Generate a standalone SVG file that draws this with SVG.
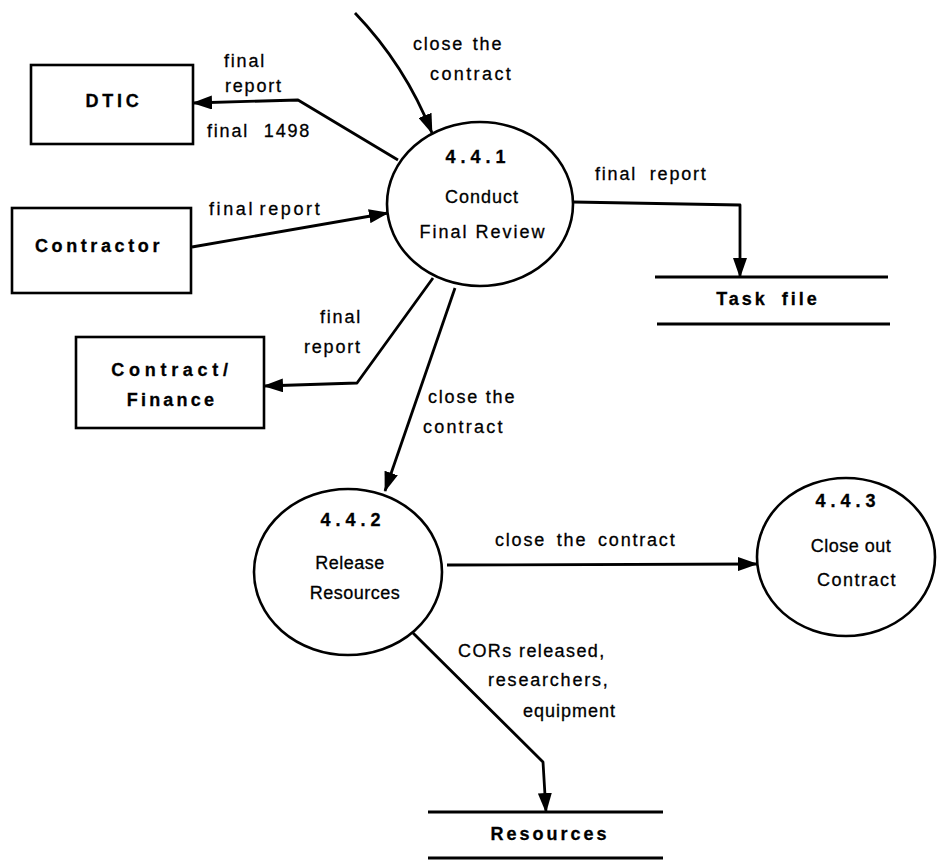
<svg xmlns="http://www.w3.org/2000/svg" width="938" height="860" viewBox="0 0 938 860">
<style>
  .box{fill:#fff;stroke:#000;stroke-width:2.6}
  .proc{fill:#fff;stroke:#000;stroke-width:2.6}
  .store{stroke:#000;stroke-width:2.8}
  .flow{fill:none;stroke:#000;stroke-width:2.8;stroke-linejoin:round}
  .arr{marker-end:url(#ah)}
  text{font-family:"Liberation Sans",Arial,sans-serif;font-size:18px;fill:#000;stroke:#000;stroke-width:0.3}
  .b{font-weight:bold}
  .lbl{letter-spacing:1.8px}
  .m{text-anchor:middle}
</style>
<defs>
  <marker id="ah" markerUnits="userSpaceOnUse" markerWidth="20" markerHeight="14" refX="19" refY="7" orient="auto">
    <path d="M0,0 L20,7 L0,14 z" fill="#000"/>
  </marker>
</defs>
<rect width="938" height="860" fill="#fff"/>

<g id="connectors">
  <path class="flow arr" d="M355,13 Q405,65 432,133"/>
  <path class="flow arr" d="M398,160 L298,100 L193,103"/>
  <path class="flow arr" d="M192,247 L388,213"/>
  <path class="flow arr" d="M573,202 L740,205 L740,277"/>
  <path class="flow arr" d="M433,278 L357,383 L264,386"/>
  <path class="flow arr" d="M455,288 L385,491"/>
  <path class="flow arr" d="M447,565 L757,564"/>
  <path class="flow arr" d="M413,633 L543,762 L546,812"/>

  <text class="lbl" x="413" y="50" style="word-spacing:2px">close the</text>
  <text class="lbl" x="430" y="80" style="letter-spacing:2.4px">contract</text>
  <text class="lbl" x="224" y="67">final</text>
  <text class="lbl" x="225" y="92">report</text>
  <text class="lbl" x="207" y="137" style="word-spacing:8px">final 1498</text>
  <text x="209" y="215" style="letter-spacing:2.6px;word-spacing:-3px">final report</text>
  <text class="lbl" x="595" y="180" style="word-spacing:6px">final report</text>
  <text class="lbl" x="320" y="323">final</text>
  <text class="lbl" x="304" y="353">report</text>
  <text class="lbl" x="428" y="403">close the</text>
  <text class="lbl" x="423" y="433" style="letter-spacing:2.2px">contract</text>
  <text class="lbl" x="495" y="546" style="word-spacing:4px">close the contract</text>
  <text class="lbl" x="458" y="657" style="letter-spacing:1.4px">CORs released,</text>
  <text class="lbl" x="488" y="686">researchers,</text>
  <text class="lbl" x="523" y="717" style="letter-spacing:1px">equipment</text>
</g>

<g id="dtic">
  <rect class="box" x="31" y="65" width="162" height="79"/>
  <text class="b m" x="114" y="107" style="letter-spacing:3.7px">DTIC</text>
</g>
<g id="contractor">
  <rect class="box" x="12" y="208" width="179" height="85"/>
  <text class="b m" x="99" y="252" style="letter-spacing:3.6px">Contractor</text>
</g>
<g id="contract-finance">
  <rect class="box" x="76" y="337" width="188" height="91"/>
  <text class="b m" x="172" y="376" style="letter-spacing:4.7px">Contract/</text>
  <text class="b m" x="172" y="406" style="letter-spacing:3.2px">Finance</text>
</g>
<g id="p441">
  <ellipse class="proc" cx="480" cy="204" rx="93" ry="82"/>
  <text class="b m" x="478" y="163" style="letter-spacing:5px">4.4.1</text>
  <text class="m" x="482" y="203" style="letter-spacing:1px">Conduct</text>
  <text class="m" x="483" y="238" style="letter-spacing:2px">Final Review</text>
</g>
<g id="task-file">
  <line class="store" x1="655" y1="277" x2="888" y2="277"/>
  <line class="store" x1="657" y1="324" x2="890" y2="324"/>
  <text class="b m" x="768" y="305" style="letter-spacing:3px;word-spacing:6px">Task file</text>
</g>
<g id="p442">
  <ellipse class="proc" cx="348" cy="572" rx="94" ry="83"/>
  <text class="b m" x="353" y="526" style="letter-spacing:5px">4.4.2</text>
  <text class="m" x="350" y="569" style="letter-spacing:0.5px">Release</text>
  <text class="m" x="355" y="599" style="letter-spacing:0.5px">Resources</text>
</g>
<g id="p443">
  <ellipse class="proc" cx="846" cy="557" rx="89" ry="79"/>
  <text class="b m" x="848" y="507" style="letter-spacing:5px">4.4.3</text>
  <text class="m" x="851" y="552" style="letter-spacing:0.5px">Close out</text>
  <text class="m" x="857" y="586" style="letter-spacing:1.5px">Contract</text>
</g>
<g id="resources">
  <line class="store" x1="428" y1="812" x2="663" y2="812"/>
  <line class="store" x1="428" y1="858" x2="663" y2="858"/>
  <text class="b m" x="550" y="840" style="letter-spacing:3px">Resources</text>
</g>
</svg>
